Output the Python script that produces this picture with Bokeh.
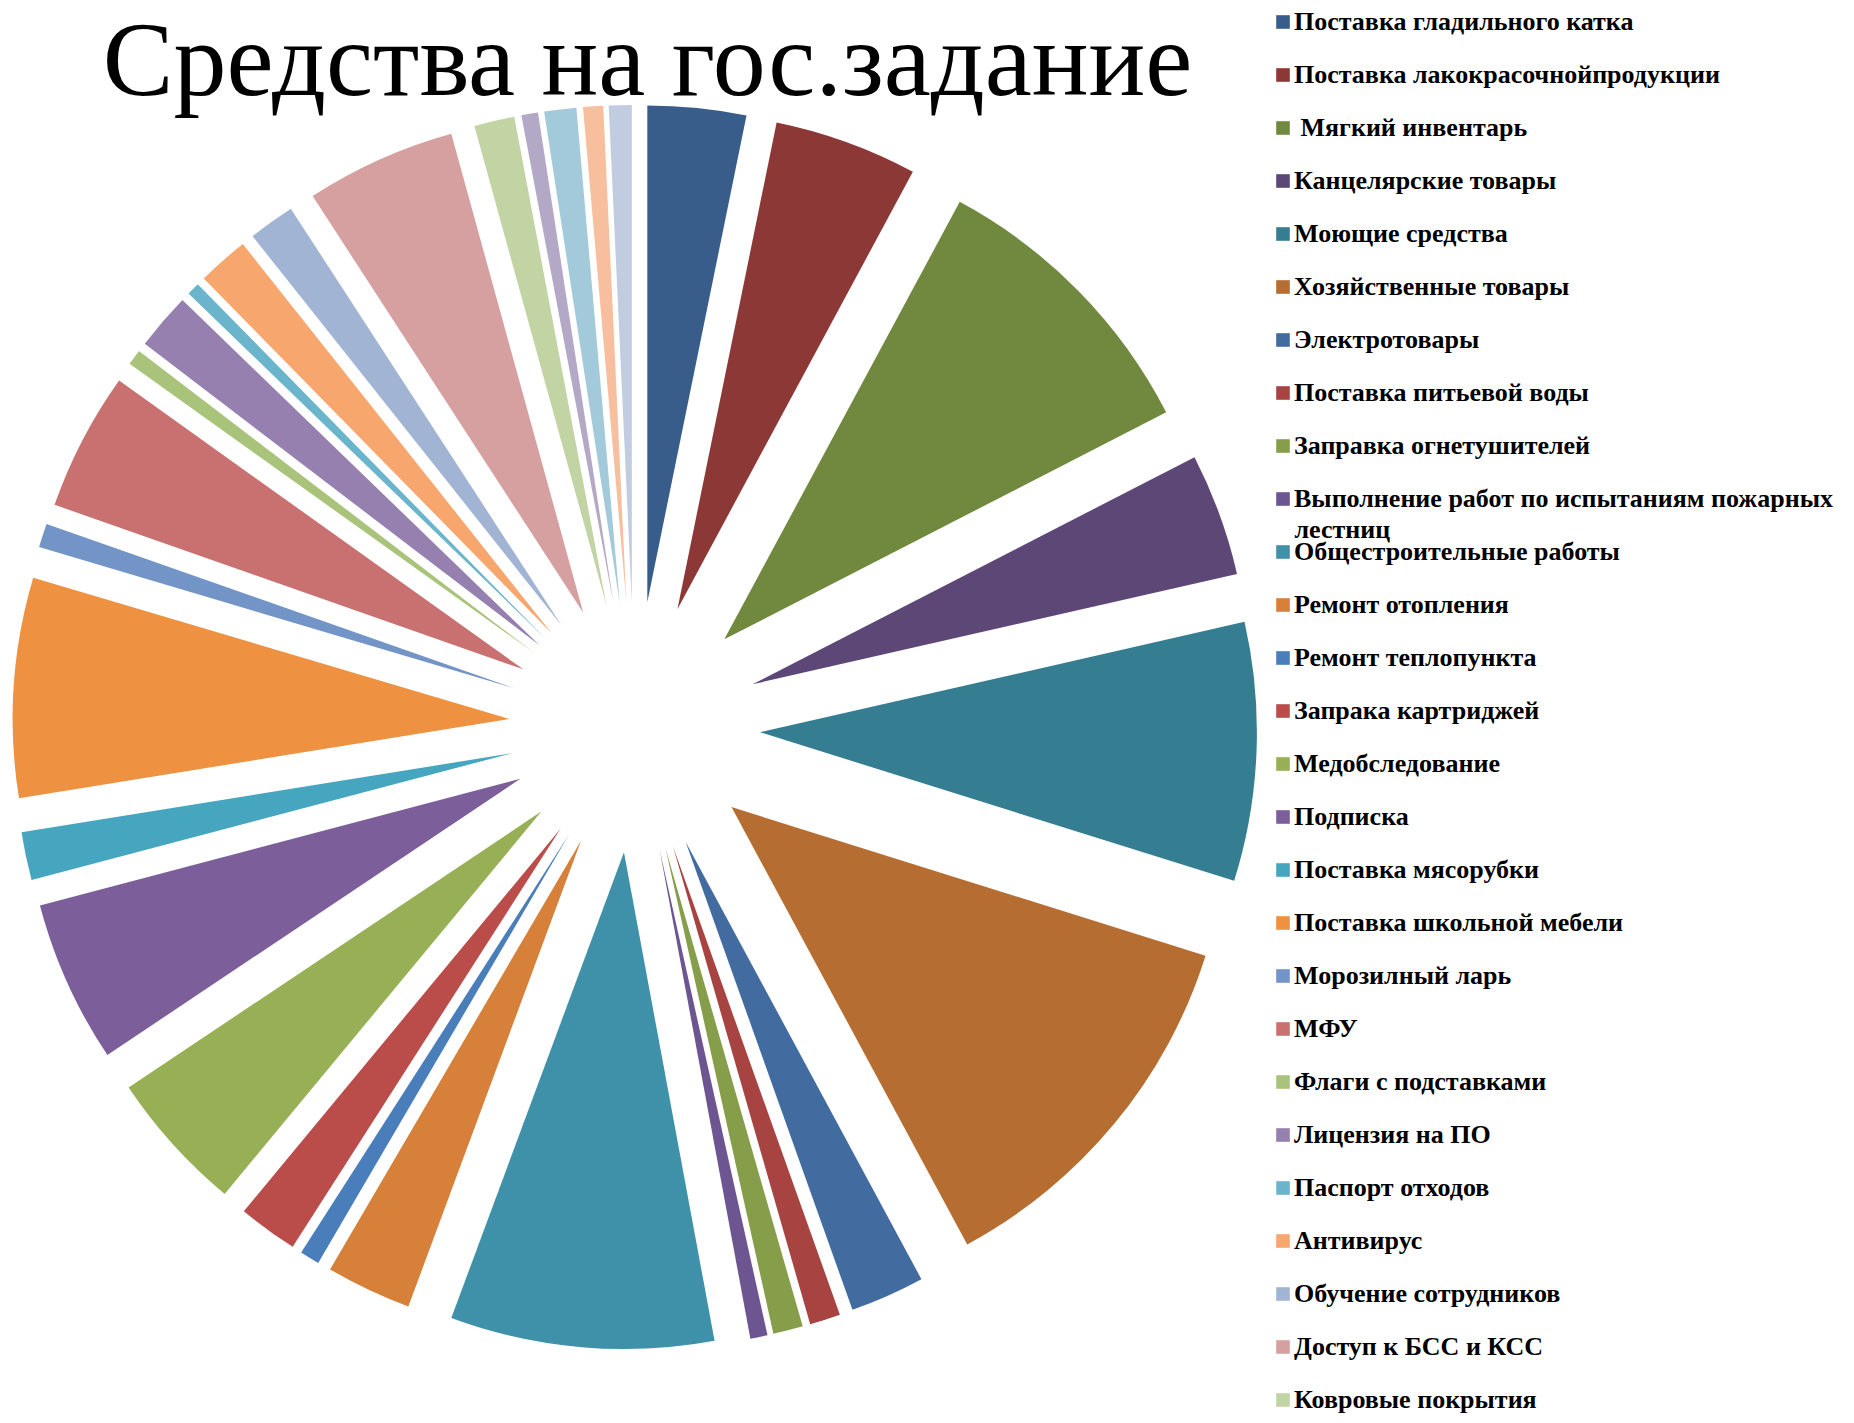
import numpy as np
from bokeh.plotting import figure
from bokeh.models import ColumnDataSource, Legend, LegendItem, Label, Range1d
from bokeh.embed import file_html
from bokeh.resources import INLINE

title_text = "Средства на гос.задание"

categories = [
    "Поставка гладильного катка",
    "Поставка лакокрасочнойпродукции",
    " Мягкий инвентарь",
    "Канцелярские товары",
    "Моющие средства",
    "Хозяйственные товары",
    "Электротовары",
    "Поставка питьевой воды",
    "Заправка огнетушителей",
    "Выполнение работ по испытаниям пожарных лестниц",
    "Общестроительные работы",
    "Ремонт отопления",
    "Ремонт теплопункта",
    "Запрака картриджей",
    "Медобследование",
    "Подписка",
    "Поставка мясорубки",
    "Поставка школьной мебели",
    "Морозилный ларь",
    "МФУ",
    "Флаги с подставками",
    "Лицензия на ПО",
    "Паспорт отходов",
    "Антивирус",
    "Обучение сотрудников",
    "Доступ к БСС и КСС",
    "Ковровые покрытия",
    "", "", "", "",
]

# shares (%)
values = [3.20, 4.66, 9.59, 3.99, 8.40, 12.30, 2.42, 1.00, 0.97, 0.56,
          8.57, 2.78, 0.64, 1.94, 4.61, 5.28, 1.56, 7.14, 0.78, 4.50,
          0.51, 1.85, 0.42, 1.67, 1.51, 4.89, 1.31, 0.54, 1.04, 0.65, 0.74]

colors = ["#385D8A", "#8C3836", "#71893F", "#5C4776", "#357D91", "#B66D31",
          "#426CA0", "#A74442", "#869E4A", "#6C5590", "#3F91A9", "#D6803A",
          "#4A7EBB", "#BA4C4A", "#97B055", "#7C5F9A", "#46A6C0", "#EE9140",
          "#7394C6", "#C97170", "#A9C47A", "#9580AF", "#6BB5CC", "#F7A66D",
          "#A2B4D4", "#D6A0A0", "#C2D3A4", "#B3A9C7", "#A3CADB", "#F8BF9F",
          "#C1CCE1"]

W, H = 1846, 1415
cx, cy = 634.2, H - 726.7
R, d = 496.8, 125.5

vals = np.array(values, dtype=float)
cum = np.concatenate([[0.0], np.cumsum(vals / vals.sum())]) * 2 * np.pi
t1, t2 = cum[:-1], cum[1:]
tm = (t1 + t2) / 2

src = ColumnDataSource(dict(
    x=cx + d * np.sin(tm),
    y=cy + d * np.cos(tm),
    start=np.pi / 2 - t2,
    end=np.pi / 2 - t1,
    color=colors,
    name=categories,
))

p = figure(width=W, height=H, x_range=Range1d(0, W), y_range=Range1d(0, H),
           output_backend="svg", toolbar_location=None, min_border=0,
           x_axis_location=None, y_axis_location=None, outline_line_color=None)
p.grid.visible = False
p.background_fill_color = "white"

r = p.wedge(x="x", y="y", radius=R, radius_units="screen", start_angle="start",
            end_angle="end", direction="anticlock", fill_color="color",
            line_color=None, source=src)

# legend (the long 10th label wraps onto a second line in the original)
first_line = "Выполнение работ по испытаниям пожарных"
items = []
for i, name in enumerate(categories):
    if not name:
        continue
    lab = first_line if name.startswith(first_line) else name
    items.append(LegendItem(label=lab, renderers=[r], index=i))

LEG_X, GW, STAND, LH, SP, TOP = 1274, 17, 3, 31, 22, 6
n_items = len(items)
leg_h = n_items * LH + (n_items - 1) * SP
legend = Legend(items=items, location=(LEG_X, H - TOP - leg_h), orientation="vertical",
                glyph_width=GW, glyph_height=GW, label_standoff=STAND,
                label_height=LH, spacing=SP, padding=0, margin=0,
                border_line_color=None, background_fill_alpha=0,
                label_text_font="Liberation Serif", label_text_font_style="bold",
                label_text_font_size="26px", label_text_color="black")
p.add_layout(legend)

wrap_y = TOP + LH / 2 + 9 * (LH + SP) + 30
p.add_layout(Label(x=LEG_X + GW + STAND, y=H - wrap_y, x_units="screen", y_units="screen",
                   text="лестниц", text_align="left", text_baseline="middle",
                   text_font="Liberation Serif", text_font_style="bold",
                   text_font_size="26px", text_color="black"))

p.add_layout(Label(x=647, y=H - 59, x_units="screen", y_units="screen",
                   text=title_text, text_align="center", text_baseline="middle",
                   text_font="Liberation Serif", text_font_size="106px",
                   text_color="black"))

open("out.html", "w").write(file_html(p, INLINE))
